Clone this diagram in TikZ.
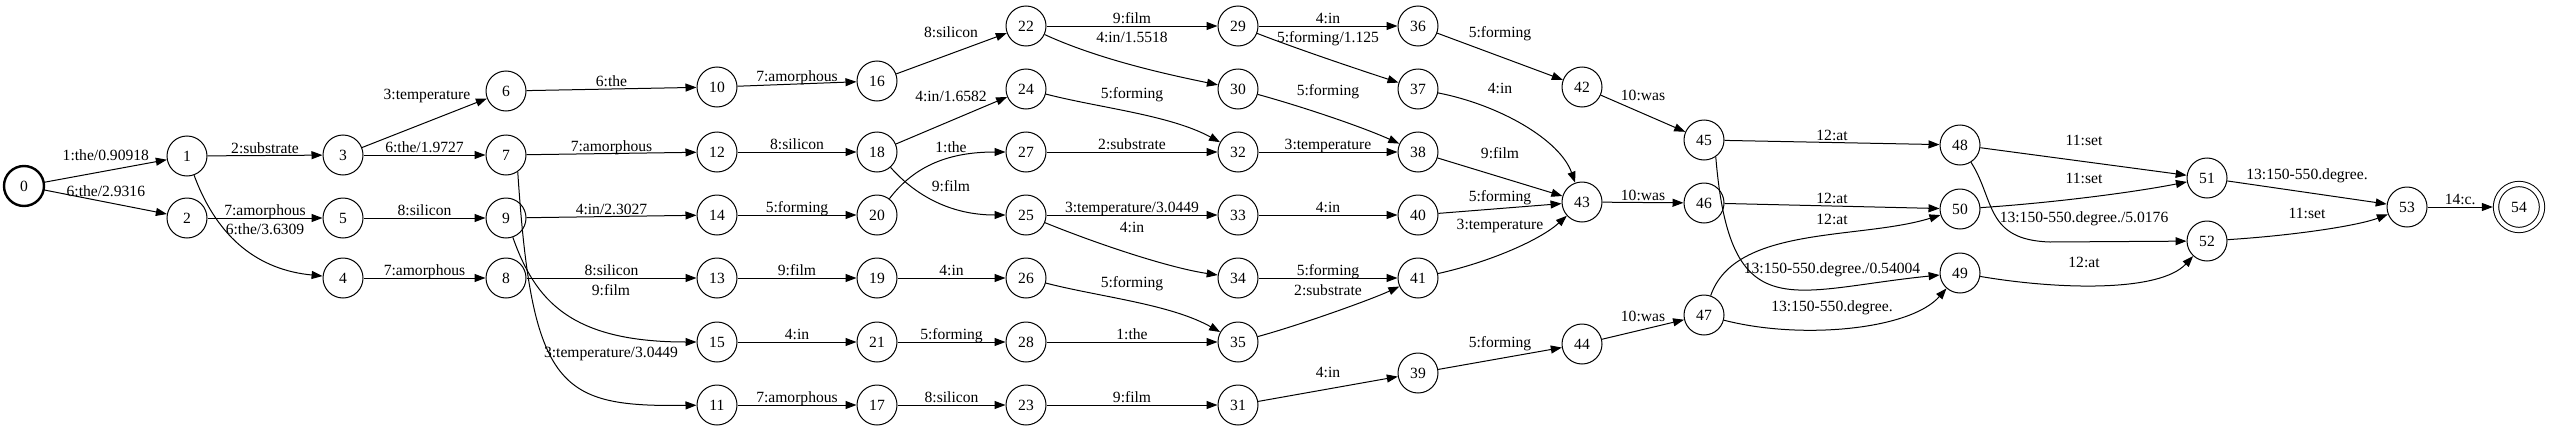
\documentclass[tikz,border=0pt]{standalone}
\usepackage{fontspec}
\setmainfont{Liberation Serif}
\usetikzlibrary{arrows.meta}
\newcommand{\fsz}{\fontsize{15.6}{18}\selectfont}
\tikzset{
  st/.style={circle, draw, line width=1pt, minimum size=40pt, inner sep=0pt, font=\fsz},
  init/.style={st, line width=2.4pt},
  fin/.style={st, double, double distance=4.3pt, minimum size=46pt, outer sep=3.2pt},
  arr/.style={-{Triangle[length=11pt,width=8pt]}, line width=1pt},
  lbl/.style={font=\fsz, inner sep=0pt, text height=11pt, text depth=2pt},
}
\begin{document}
\begin{tikzpicture}[x=1pt, y=-1pt]
    \useasboundingbox (0,0) rectangle (2550,431);
    % states
    \node[init] (n0) at (24,186) {0};
    \node[st] (n1) at (187,156) {1};   \node[st] (n2) at (187,218) {2};
    \node[st] (n3) at (343,155) {3};   \node[st] (n5) at (343,218) {5};   \node[st] (n4) at (343,278) {4};
    \node[st] (n6) at (506,91) {6};    \node[st] (n7) at (506,155) {7};   \node[st] (n9) at (506,218) {9};
    \node[st] (n8) at (506,278) {8};
    \node[st] (n10) at (717,87) {10};  \node[st] (n12) at (717,152) {12}; \node[st] (n14) at (717,215) {14};
    \node[st] (n13) at (717,278) {13}; \node[st] (n15) at (717,342) {15}; \node[st] (n11) at (717,405) {11};
    \node[st] (n16) at (877,81) {16};  \node[st] (n18) at (877,152) {18}; \node[st] (n20) at (877,215) {20};
    \node[st] (n19) at (877,278) {19}; \node[st] (n21) at (877,342) {21}; \node[st] (n17) at (877,405) {17};
    \node[st] (n22) at (1026,26) {22}; \node[st] (n24) at (1026,89) {24}; \node[st] (n27) at (1026,152) {27};
    \node[st] (n25) at (1026,215) {25};\node[st] (n26) at (1026,278) {26};\node[st] (n28) at (1026,342) {28};
    \node[st] (n23) at (1026,405) {23};
    \node[st] (n29) at (1238,26) {29}; \node[st] (n30) at (1238,89) {30}; \node[st] (n32) at (1238,152) {32};
    \node[st] (n33) at (1238,215) {33};\node[st] (n34) at (1238,278) {34};\node[st] (n35) at (1238,342) {35};
    \node[st] (n31) at (1238,405) {31};
    \node[st] (n36) at (1418,26) {36}; \node[st] (n37) at (1418,89) {37}; \node[st] (n38) at (1418,152) {38};
    \node[st] (n40) at (1418,215) {40};\node[st] (n41) at (1418,278) {41};\node[st] (n39) at (1418,373) {39};
    \node[st] (n42) at (1582,87) {42}; \node[st] (n43) at (1582,202) {43};\node[st] (n44) at (1582,344) {44};
    \node[st] (n45) at (1704,140) {45};\node[st] (n46) at (1704,203) {46};\node[st] (n47) at (1704,315) {47};
    \node[st] (n48) at (1960,145) {48};\node[st] (n50) at (1960,209) {50};\node[st] (n49) at (1960,273) {49};
    \node[st] (n51) at (2207,178) {51};\node[st] (n52) at (2207,241) {52};
    \node[st] (n53) at (2407,207) {53};
    \node[fin] (n54) at (2519,207) {54};
    % arcs
    \draw[arr] (n0) -- node[lbl, above=8pt] {1:the/0.90918} (n1);
    \draw[arr] (n0) -- node[lbl, above=3pt] {6:the/2.9316} (n2);
    \draw[arr] (n1) -- node[lbl, above] {2:substrate} (n3);
    \draw[arr] (n1) .. controls (218,240) and (260,270) .. (n4) node[lbl] at (265,230) {6:the/3.6309};
    \draw[arr] (n2) -- node[lbl, above] {7:amorphous} (n5);
    \draw[arr] (n3) -- (n6) node[lbl] at (427,95) {3:temperature};
    \draw[arr] (n3) -- node[lbl, above] {6:the/1.9727} (n7);
    \draw[arr] (n5) -- node[lbl, above] {8:silicon} (n9);
    \draw[arr] (n4) -- node[lbl, above] {7:amorphous} (n8);
    \draw[arr] (n6) -- node[lbl, above] {6:the} (n10);
    \draw[arr] (n7) -- node[lbl, above] {7:amorphous} (n12);
    \draw[arr] (n7.305) .. controls (532,390) and (560,407) .. (n11) node[lbl] at (611,353) {3:temperature/3.0449};
    \draw[arr] (n9) -- node[lbl, above] {4:in/2.3027} (n14);
    \draw[arr] (n9) .. controls (535,300) and (570,342) .. (n15) node[lbl] at (611,291) {9:film};
    \draw[arr] (n8) -- node[lbl, above] {8:silicon} (n13);
    \draw[arr] (n10) -- node[lbl, above] {7:amorphous} (n16);
    \draw[arr] (n12) -- node[lbl, above] {8:silicon} (n18);
    \draw[arr] (n14) -- node[lbl, above] {5:forming} (n20);
    \draw[arr] (n13) -- node[lbl, above] {9:film} (n19);
    \draw[arr] (n15) -- node[lbl, above] {4:in} (n21);
    \draw[arr] (n11) -- node[lbl, above] {7:amorphous} (n17);
    \draw[arr] (n16) -- (n22) node[lbl] at (951,33) {8:silicon};
    \draw[arr] (n18) -- (n24) node[lbl] at (951,97) {4:in/1.6582};
    \draw[arr] (n20) .. controls (915,165) and (950,152) .. (n27) node[lbl] at (951,148) {1:the};
    \draw[arr] (n18) .. controls (915,195) and (950,215) .. (n25) node[lbl] at (951,187) {9:film};
    \draw[arr] (n19) -- node[lbl, above] {4:in} (n26);
    \draw[arr] (n21) -- node[lbl, above] {5:forming} (n28);
    \draw[arr] (n17) -- node[lbl, above] {8:silicon} (n23);
    \draw[arr] (n22) -- node[lbl, above] {9:film} (n29);
    \draw[arr] (n22) .. controls (1100,60) and (1170,75) .. (n30) node[lbl] at (1132,38) {4:in/1.5518};
    \draw[arr] (n24) .. controls (1100,108) and (1170,115) .. (n32) node[lbl] at (1132,94) {5:forming};
    \draw[arr] (n27) -- node[lbl, above] {2:substrate} (n32);
    \draw[arr] (n25) -- node[lbl, above] {3:temperature/3.0449} (n33);
    \draw[arr] (n25) .. controls (1100,245) and (1170,268) .. (n34) node[lbl] at (1132,228) {4:in};
    \draw[arr] (n26) .. controls (1100,297) and (1170,304) .. (n35) node[lbl] at (1132,283) {5:forming};
    \draw[arr] (n28) -- node[lbl, above] {1:the} (n35);
    \draw[arr] (n23) -- node[lbl, above] {9:film} (n31);
    \draw[arr] (n29) -- node[lbl, above] {4:in} (n36);
    \draw[arr] (n29) .. controls (1300,50) and (1360,70) .. (n37) node[lbl] at (1328,38) {5:forming/1.125};
    \draw[arr] (n30) .. controls (1300,106) and (1360,126) .. (n38) node[lbl] at (1328,91) {5:forming};
    \draw[arr] (n32) -- node[lbl, above] {3:temperature} (n38);
    \draw[arr] (n33) -- node[lbl, above] {4:in} (n40);
    \draw[arr] (n34) -- node[lbl, above] {5:forming} (n41);
    \draw[arr] (n35) .. controls (1300,325) and (1370,300) .. (n41) node[lbl] at (1328,291) {2:substrate};
    \draw[arr] (n31) -- (n39) node[lbl] at (1328,373) {4:in};
    \draw[arr] (n36) -- (n42) node[lbl] at (1500,33) {5:forming};
    \draw[arr] (n37) .. controls (1500,105) and (1560,140) .. (n43) node[lbl] at (1500,89) {4:in};
    \draw[arr] (n38) -- (n43) node[lbl] at (1500,154) {9:film};
    \draw[arr] (n40) -- (n43) node[lbl] at (1500,197) {5:forming};
    \draw[arr] (n41) .. controls (1490,262) and (1540,240) .. (n43) node[lbl] at (1500,225) {3:temperature};
    \draw[arr] (n39) -- (n44) node[lbl] at (1500,343) {5:forming};
    \draw[arr] (n42) -- (n45) node[lbl] at (1643,96) {10:was};
    \draw[arr] (n43) -- node[lbl, above] {10:was} (n46);
    \draw[arr] (n44) -- (n47) node[lbl] at (1643,317) {10:was};
    \draw[arr] (n45) -- node[lbl, above] {12:at} (n48);
    \draw[arr] (n46) -- node[lbl, above] {12:at} (n50);
    \draw[arr] (n47) .. controls (1735,225) and (1860,240) .. (n50) node[lbl] at (1832,220) {12:at};
    \draw[arr] (n45.305) .. controls (1730,330) and (1790,290) .. (n49) node[lbl] at (1832,269) {13:150-550.degree./0.54004};
    \draw[arr] (n47) .. controls (1800,340) and (1910,330) .. (n49) node[lbl] at (1832,307) {13:150-550.degree.};
    \draw[arr] (n48) -- (n51) node[lbl] at (2084,141) {11:set};
    \draw[arr] (n50) .. controls (2050,203) and (2130,193) .. (n51) node[lbl] at (2084,179) {11:set};
    \draw[arr] (n48) .. controls (1995,200) and (1985,240) .. (2050,242) -- (n52) node[lbl] at (2084,218) {13:150-550.degree./5.0176};
    \draw[arr] (n49) .. controls (2060,290) and (2160,292) .. (n52) node[lbl] at (2084,263) {12:at};
    \draw[arr] (n51) -- (n53) node[lbl] at (2307,175) {13:150-550.degree.};
    \draw[arr] (n52) .. controls (2300,235) and (2360,225) .. (n53) node[lbl] at (2307,214) {11:set};
    \draw[arr] (n53) -- node[lbl, above] {14:c.} (n54);
\end{tikzpicture}
\end{document}
